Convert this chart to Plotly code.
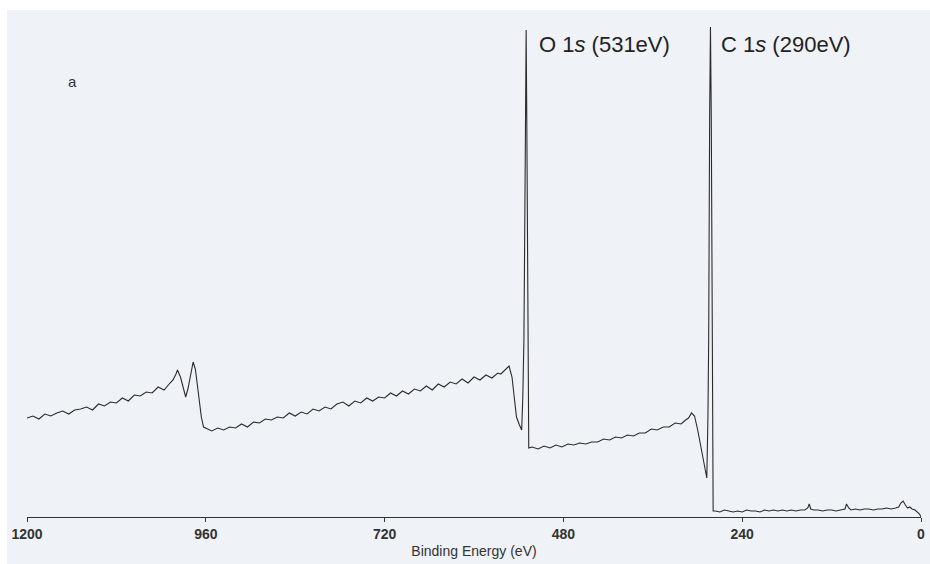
import plotly.graph_objects as go

# XPS survey spectrum (binding energy in eV, intensity in arbitrary units)
binding_energy = [
    1200, 1192, 1184, 1176, 1168, 1160, 1152, 1144, 1136, 1128, 1120, 1112, 1104, 1096, 1088, 1080,
    1072, 1064, 1056, 1048, 1040, 1032, 1024, 1016, 1008, 1004, 1000, 998, 994, 990, 987, 984, 980,
    977, 974, 970, 966, 963, 958, 952,
    944, 936, 928, 920, 912, 904, 896, 888, 880, 872, 864, 856, 848, 840, 832, 824, 816, 808, 800,
    792, 784, 776, 768, 760, 752, 744, 736, 728, 720, 712, 704, 696, 688, 680, 672, 664, 656, 648,
    640, 632, 624, 616, 608, 600, 592, 584, 576, 568, 564, 560, 556, 553, 549, 545, 543, 539, 536,
    534.5, 533, 531, 530, 529, 527.5, 526.5,
    522, 514, 506, 498, 490, 482, 474, 466, 458, 450, 442, 434, 426, 418, 410, 402, 394, 386, 378,
    370, 362, 354, 346, 338, 330, 322, 316, 312, 308, 304, 300, 296, 292, 289, 287.5,
    286, 285, 283.7, 282.6, 281.5, 280.2, 279.3, 279,
    276, 270, 264, 258, 252, 246, 240, 234, 228, 222, 216, 210, 204, 198, 192, 186, 180, 174, 168,
    162, 156, 152, 150, 148, 144, 138, 132, 126, 120, 114, 108, 102, 100, 97, 94, 88, 82, 76, 70,
    64, 58, 52, 46, 40, 34, 30, 27, 24, 21, 18, 15, 12, 8, 5, 2, 0,
]
intensity = [
    99, 101, 98, 103, 101, 104, 106, 103, 107, 108, 110, 107, 113, 111, 115, 114,
    119, 116, 122, 121, 125, 124, 130, 127, 134, 137, 143, 147, 140, 128, 120, 128, 145,
    155, 148, 125, 100, 90, 88, 86,
    89, 87, 90, 89, 93, 90, 95, 94, 98, 97, 100, 99, 104, 101, 105, 103, 108, 106, 110,
    108, 113, 115, 111, 116, 114, 119, 116, 120, 119, 124, 121, 126, 123, 128, 126, 131, 127, 133,
    130, 135, 133, 138, 134, 140, 137, 142, 139, 144, 143, 146, 149, 151, 140, 115, 100, 92, 87,
    120, 177, 380, 487, 380, 177, 69,
    70, 68, 71, 69, 72, 70, 73, 72, 74, 73, 75, 75, 78, 77, 80, 79, 82, 81, 84,
    84, 88, 87, 90, 90, 94, 93, 97, 99, 104, 101, 88, 72, 55, 42, 39,
    100, 177, 400, 490, 400, 177, 30, 6,
    6, 5, 7, 6, 5, 6, 5, 7, 6, 6, 5, 7, 6, 7, 6, 7, 6, 7, 6,
    7, 7, 9, 13, 8, 7, 7, 6, 7, 7, 6, 7, 8, 13, 9, 7, 8, 7, 8, 8,
    7, 8, 8, 9, 8, 9, 10, 14, 16, 12, 9, 10, 8, 7, 5, 3, 0,
]

tick_values = [1200, 960, 720, 480, 240, 0]
tick_labels = ["1200", "960", "720", "480", "240", "0"]

BG = "#eff2f7"
INK = "#2b2b2b"

W, H = 930, 564
ML, MR, MT, MB = 27, 9, 10, 47
PW, PH = W - ML - MR, H - MT - MB

fig = go.Figure()
fig.add_trace(go.Scatter(
    x=binding_energy, y=intensity, mode="lines",
    line=dict(color=INK, width=1.1), hoverinfo="skip", showlegend=False,
))

font_family = "Arial, Liberation Sans, sans-serif"

fig.update_layout(
    width=W, height=H,
    margin=dict(l=ML, r=MR, t=MT, b=MB, pad=0),
    paper_bgcolor=BG, plot_bgcolor=BG,
    font=dict(family=font_family, color="#333333"),
    xaxis=dict(
        range=[1200, 0], tickvals=tick_values, ticktext=tick_labels,
        showline=True, linecolor="#333333", linewidth=1,
        ticks="outside", ticklen=4, tickcolor="#333333", tickwidth=1,
        tickfont=dict(family=font_family, size=14, color="#333333", weight="bold"),
        showgrid=False, zeroline=False, automargin=False,
        title=dict(text="Binding Energy (eV)", font=dict(family=font_family, size=14, color="#333333"), standoff=5),
    ),
    yaxis=dict(range=[0, PH], visible=False, showgrid=False, zeroline=False),
    shapes=[
        # white frame strips outside the grey panel (top and left)
        dict(type="rect", xref="paper", yref="paper", layer="below",
             x0=-ML / PW, x1=1 + MR / PW, y0=1, y1=1 + MT / PH,
             fillcolor="white", line=dict(width=0)),
        dict(type="rect", xref="paper", yref="paper", layer="below",
             x0=-ML / PW, x1=-(ML - 7) / PW, y0=-MB / PH, y1=1 + MT / PH,
             fillcolor="white", line=dict(width=0)),
    ],
    annotations=[
        dict(text="a", xref="paper", yref="paper", x=(72 - ML) / PW, y=(517 - 81) / PH,
             xanchor="center", yanchor="middle", showarrow=False,
             font=dict(family=font_family, size=15, color="#333333")),
        dict(text="O 1<i>s</i> (531eV)", xref="paper", yref="paper", x=(537 - ML) / PW, y=(517 - 44) / PH,
             xanchor="left", yanchor="middle", showarrow=False,
             font=dict(family=font_family, size=22, color="#222222")),
        dict(text="C 1<i>s</i> (290eV)", xref="paper", yref="paper", x=(719 - ML) / PW, y=(517 - 44) / PH,
             xanchor="left", yanchor="middle", showarrow=False,
             font=dict(family=font_family, size=22, color="#222222")),
    ],
)

fig.write_html("out.html")
